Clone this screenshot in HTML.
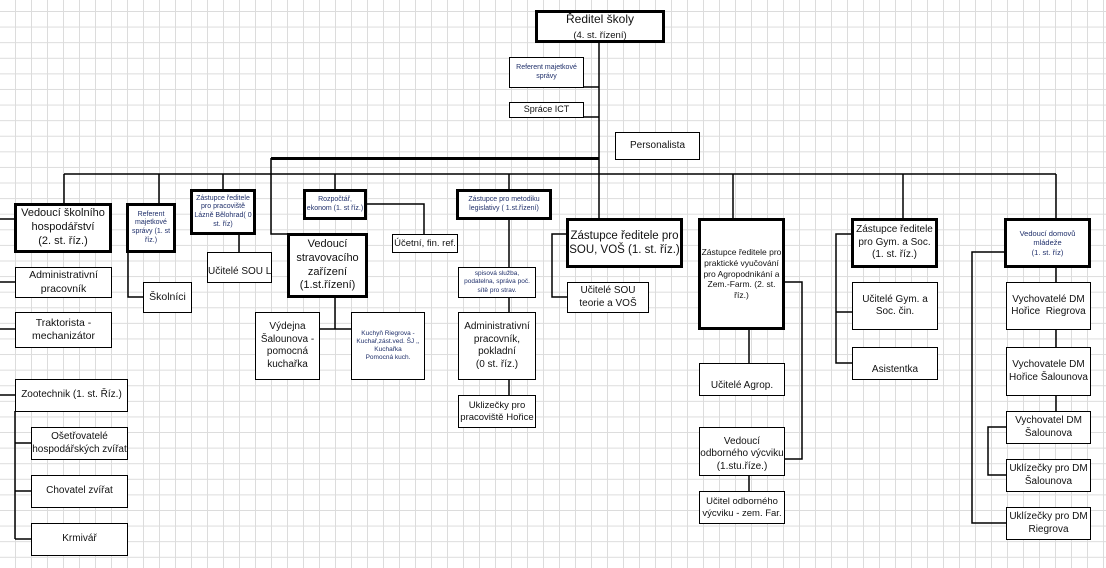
<!DOCTYPE html>
<html><head><meta charset="utf-8">
<style>
html,body{margin:0;padding:0}
body{width:1106px;height:568px;position:relative;overflow:hidden;background-color:#fff;
background-image:linear-gradient(to right,#dcdcdc 1px,transparent 1px),linear-gradient(to bottom,#dcdcdc 1px,transparent 1px);
background-size:16px 15.6px;background-position:15px 11px;font-family:"Liberation Sans",sans-serif;color:#111}
.b{position:absolute;box-sizing:border-box;border:1px solid #000;background:#fff;display:flex;align-items:center;justify-content:center;text-align:center;overflow:hidden;line-height:1.25}
.b>div{width:100%}
.t{border:3px solid #000}
.s{color:#1f2f6a}
svg{position:absolute;left:0;top:0}
</style></head><body>
<svg width="1106" height="568" stroke="#000" fill="none" stroke-width="1.5">
<line x1="599" y1="42" x2="599" y2="174"/>
<line x1="583" y1="87" x2="599" y2="87"/>
<line x1="583" y1="117" x2="599" y2="117"/>
<line x1="271" y1="158.5" x2="599" y2="158.5" stroke-width="3"/>
<line x1="64" y1="174" x2="1056" y2="174"/>
<line x1="64" y1="174" x2="64" y2="204"/>
<line x1="159" y1="174" x2="159" y2="204"/>
<line x1="223" y1="174" x2="223" y2="190"/>
<line x1="335" y1="174" x2="335" y2="190"/>
<line x1="509" y1="174" x2="509" y2="190"/>
<line x1="599" y1="174" x2="599" y2="219"/>
<line x1="733" y1="174" x2="733" y2="219"/>
<line x1="903" y1="174" x2="903" y2="219"/>
<line x1="1056" y1="174" x2="1056" y2="219"/>
<polyline points="271,158 271,234 287,234"/>
<line x1="0" y1="219" x2="15" y2="219"/>
<line x1="0" y1="282" x2="15" y2="282"/>
<line x1="0" y1="329" x2="15" y2="329"/>
<line x1="0" y1="395" x2="15" y2="395"/>
<line x1="15" y1="411" x2="15" y2="539"/>
<line x1="15" y1="443" x2="31" y2="443"/>
<line x1="15" y1="491" x2="31" y2="491"/>
<line x1="15" y1="539" x2="31" y2="539"/>
<polyline points="128,252 128,297 143,297"/>
<line x1="239" y1="234" x2="239" y2="252"/>
<polyline points="366,204 424,204 424,234"/>
<line x1="335" y1="297" x2="335" y2="329"/>
<line x1="319" y1="329" x2="351" y2="329"/>
<line x1="509" y1="219" x2="509" y2="267"/>
<line x1="509" y1="297" x2="509" y2="312"/>
<line x1="509" y1="379" x2="509" y2="395"/>
<polyline points="567,234 552,234 552,297 567,297"/>
<line x1="749" y1="329" x2="749" y2="363"/>
<polyline points="784,282 802,282 802,459 784,459"/>
<line x1="749" y1="475" x2="749" y2="491"/>
<polyline points="852,234 836,234 836,363 852,363"/>
<line x1="836" y1="312" x2="852" y2="312"/>
<line x1="1056" y1="267" x2="1056" y2="411"/>
<polyline points="1006,252 972,252 972,523 1006,523"/>
<polyline points="1006,427 988,427 988,475 1006,475"/>
</svg>

<div class="b t" style="left:535px;top:10px;width:130px;height:33px;font-size:12px;line-height:1.2"><div>Ředitel školy<br><span style="font-size:9.5px">(4. st. řízení)</span></div></div>
<div class="b s" style="left:509px;top:57px;width:75px;height:31px;font-size:7px"><div>Referent majetkové<br>správy</div></div>
<div class="b" style="left:509px;top:102px;width:75px;height:16px;font-size:9px"><div>Spráce ICT</div></div>
<div class="b" style="left:615px;top:132px;width:85px;height:28px;font-size:10px"><div>Personalista</div></div>

<div class="b t" style="left:14px;top:203px;width:98px;height:50px;font-size:11px"><div>Vedoucí školního hospodářství<br>(2. st. říz.)</div></div>
<div class="b" style="left:15px;top:267px;width:97px;height:31px;font-size:10.5px"><div>Administrativní pracovník</div></div>
<div class="b" style="left:15px;top:312px;width:97px;height:36px;font-size:10.5px"><div>Traktorista - mechanizátor</div></div>
<div class="b" style="left:15px;top:379px;width:113px;height:33px;font-size:10px"><div>Zootechnik (1. st. Říz.)</div></div>
<div class="b" style="left:31px;top:427px;width:97px;height:33px;font-size:10px"><div>Ošetřovatelé hospodářských zvířat</div></div>
<div class="b" style="left:31px;top:475px;width:97px;height:33px;font-size:10px"><div>Chovatel zvířat</div></div>
<div class="b" style="left:31px;top:523px;width:97px;height:33px;font-size:10px"><div>Krmivář</div></div>

<div class="b t s" style="left:126px;top:203px;width:50px;height:50px;font-size:7px"><div>Referent majetkové správy (1. st říz.)</div></div>
<div class="b" style="left:143px;top:282px;width:49px;height:31px;font-size:10.5px"><div>Školníci</div></div>
<div class="b t s" style="left:190px;top:189px;width:66px;height:46px;font-size:7px"><div>Zástupce ředitele pro pracoviště Lázně Bělohrad( 0 st. říz)</div></div>
<div class="b" style="left:207px;top:252px;width:65px;height:31px;font-size:10px;justify-content:flex-start;white-space:nowrap;padding-top:10px"><div style="width:auto">Učitelé SOU LB</div></div>
<div class="b t s" style="left:303px;top:189px;width:64px;height:31px;font-size:7px"><div>Rozpočtář,<br>ekonom (1. st říz.)</div></div>
<div class="b" style="left:392px;top:234px;width:66px;height:19px;font-size:9.5px;white-space:nowrap"><div>Účetní, fin. ref.</div></div>
<div class="b t" style="left:287px;top:233px;width:81px;height:65px;font-size:11px"><div>Vedoucí stravovacího zařízení<br>(1.st.řízení)</div></div>
<div class="b" style="left:255px;top:312px;width:65px;height:68px;font-size:10px"><div>Výdejna Šalounova - pomocná kuchařka</div></div>
<div class="b s" style="left:351px;top:312px;width:74px;height:68px;font-size:6.5px"><div>Kuchyň Riegrova -<br>Kuchař,zást.ved. ŠJ ,,<br>Kuchařka<br>Pomocná kuch.</div></div>

<div class="b t s" style="left:456px;top:189px;width:96px;height:31px;font-size:7px"><div>Zástupce pro metodiku<br>legislativy ( 1.st.řízení)</div></div>
<div class="b s" style="left:458px;top:267px;width:78px;height:31px;font-size:6.5px"><div>spisová služba, podatelna, správa poč. sítě pro strav.</div></div>
<div class="b" style="left:458px;top:312px;width:78px;height:68px;font-size:10px"><div>Administrativní pracovník, pokladní<br>(0 st. říz.)</div></div>
<div class="b" style="left:458px;top:395px;width:78px;height:33px;font-size:9.5px"><div>Uklizečky pro pracoviště Hořice</div></div>

<div class="b t" style="left:566px;top:218px;width:117px;height:50px;font-size:11.5px"><div>Zástupce ředitele pro SOU, VOŠ (1. st. říz.)</div></div>
<div class="b" style="left:567px;top:282px;width:82px;height:31px;font-size:10px"><div>Učitelé SOU teorie a VOŠ</div></div>

<div class="b t" style="left:698px;top:218px;width:87px;height:112px;font-size:8.5px"><div>Zástupce ředitele pro praktické vyučování pro Agropodnikání a Zem.-Farm. (2. st. říz.)</div></div>
<div class="b" style="left:699px;top:363px;width:86px;height:33px;font-size:10px;align-items:flex-end;padding-bottom:3px"><div>Učitelé Agrop.</div></div>
<div class="b" style="left:699px;top:427px;width:86px;height:49px;font-size:10px;align-items:flex-end;padding-bottom:2px"><div>Vedoucí odborného výcviku<br>(1.stu.říze.)</div></div>
<div class="b" style="left:699px;top:491px;width:86px;height:33px;font-size:9.5px"><div>Učitel odborného výcviku - zem. Far.</div></div>

<div class="b t" style="left:851px;top:218px;width:87px;height:50px;font-size:10px"><div>Zástupce ředitele pro Gym. a Soc.<br>(1. st. říz.)</div></div>
<div class="b" style="left:852px;top:282px;width:86px;height:48px;font-size:10px"><div>Učitelé Gym. a Soc. čin.</div></div>
<div class="b" style="left:852px;top:347px;width:86px;height:33px;font-size:10px;align-items:flex-end;padding-bottom:3px"><div>Asistentka</div></div>

<div class="b t s" style="left:1004px;top:218px;width:87px;height:50px;font-size:7.5px"><div>Vedoucí domovů mládeže<br>(1. st. říz)</div></div>
<div class="b" style="left:1006px;top:282px;width:85px;height:48px;font-size:10px"><div>Vychovatelé DM Hořice&nbsp; Riegrova</div></div>
<div class="b" style="left:1006px;top:347px;width:85px;height:49px;font-size:10px"><div>Vychovatele DM Hořice Šalounova</div></div>
<div class="b" style="left:1006px;top:411px;width:85px;height:33px;font-size:10px"><div>Vychovatel DM Šalounova</div></div>
<div class="b" style="left:1006px;top:459px;width:85px;height:33px;font-size:10px"><div>Uklízečky pro DM Šalounova</div></div>
<div class="b" style="left:1006px;top:507px;width:85px;height:33px;font-size:10px"><div>Uklízečky pro DM Riegrova</div></div>
</body></html>
